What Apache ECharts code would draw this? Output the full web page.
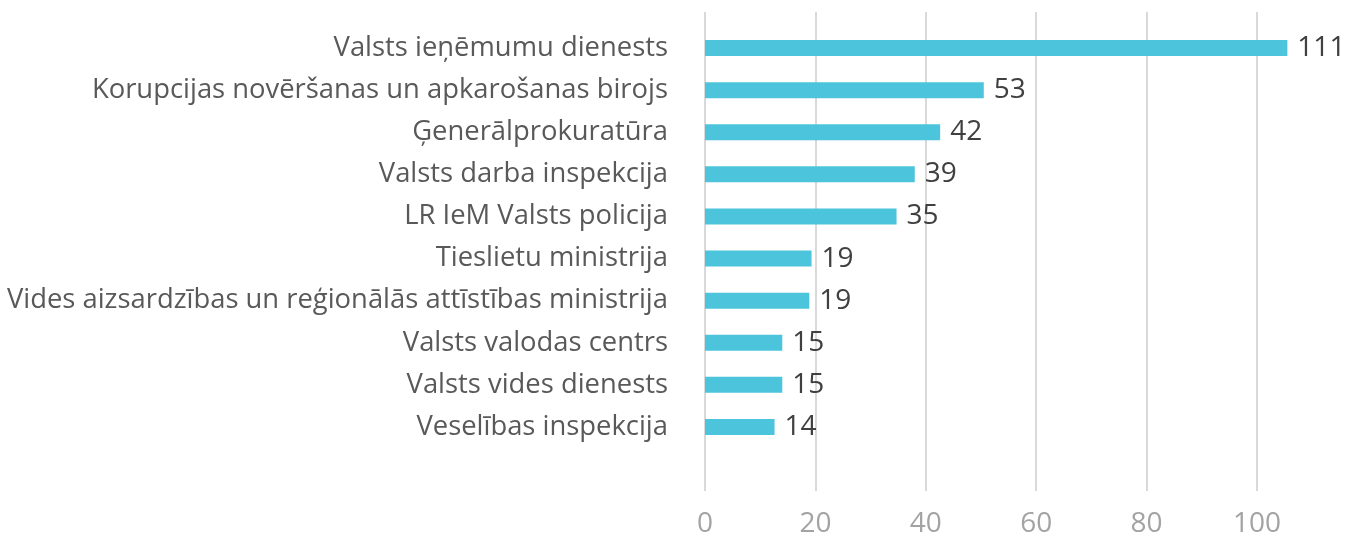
<!DOCTYPE html>
<html>
<head>
<meta charset="utf-8">
<script src="https://cdn.jsdelivr.net/npm/echarts@6/dist/echarts.min.js"></script>
<style>
  html, body { margin: 0; padding: 0; background: #fff; }
  #chart { width: 1347px; height: 538px; }
</style>
</head>
<body>
<div id="chart"></div>
<script>
// institutions, top to bottom
const institutions = [
  'Valsts ieņēmumu dienests',
  'Korupcijas novēršanas un apkarošanas birojs',
  'Ģenerālprokuratūra',
  'Valsts darba inspekcija',
  'LR IeM Valsts policija',
  'Tieslietu ministrija',
  'Vides aizsardzības un reģionālās attīstības ministrija',
  'Valsts valodas centrs',
  'Valsts vides dienests',
  'Veselības inspekcija'
];
// numbers printed next to the bars
const counts = [111, 53, 42, 39, 35, 19, 19, 15, 15, 14];
// bar lengths as drawn against the axis in the source (they don't quite match the printed numbers)
const barLengths = [105.5, 50.5, 42.6, 38, 34.7, 19.3, 18.9, 14, 14, 12.6];
const axisTicks = [0, 20, 40, 60, 80, 100];

const FONT = '"Open Sans", "Noto Sans", sans-serif';
const chart = echarts.init(document.getElementById('chart'));

const option = {
  animation: false,
  textStyle: { fontFamily: FONT },
  grid: [
    // grid 0 : value axis, gridlines and tick labels
    { left: 705, right: 90, top: 12, bottom: 46 },
    // grid 1 : the bars
    { left: 705, right: 90, top: 27, height: 421 }
  ],
  xAxis: [
    {
      gridIndex: 0,
      type: 'value',
      min: axisTicks[0],
      max: axisTicks[axisTicks.length - 1],
      interval: axisTicks[1] - axisTicks[0],
      axisLine: { show: false },
      axisTick: { show: false },
      splitLine: { lineStyle: { color: '#d9d9d9', width: 2 } },
      axisLabel: { color: '#a3a3a3', fontSize: 28, margin: 19, fontFamily: FONT }
    },
    {
      gridIndex: 1,
      type: 'value',
      min: axisTicks[0],
      max: axisTicks[axisTicks.length - 1],
      show: false
    }
  ],
  yAxis: [
    {
      gridIndex: 0,
      type: 'category',
      data: institutions,
      show: false
    },
    {
      gridIndex: 1,
      type: 'category',
      data: institutions,
      inverse: true,
      axisLine: { show: false },
      axisTick: { show: false },
      splitLine: { show: false },
      axisLabel: { color: '#595959', fontSize: 27.4, margin: 37, fontFamily: FONT }
    }
  ],
  series: [
    {
      type: 'bar',
      xAxisIndex: 1,
      yAxisIndex: 1,
      data: barLengths,
      barWidth: 16,
      clip: false,
      itemStyle: { color: '#4bc4dc' },
      label: {
        show: true,
        position: 'right',
        distance: 10,
        color: '#404040',
        fontSize: 28,
        fontFamily: FONT,
        formatter: p => counts[p.dataIndex]
      }
    }
  ]
};

chart.setOption(option);
</script>
</body>
</html>
